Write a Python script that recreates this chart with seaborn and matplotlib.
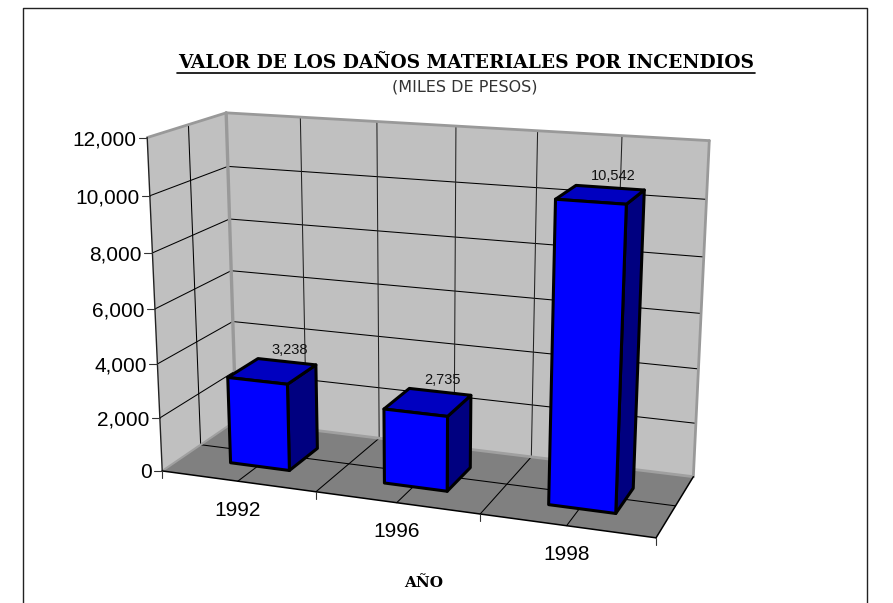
import numpy as np
import pandas as pd
import seaborn as sns
import matplotlib
matplotlib.use("Agg")
import matplotlib.pyplot as plt
from matplotlib.patches import Polygon

# data
years = ["1992", "1996", "1998"]
valores = [3238, 2735, 10542]
etiquetas = ["3,238", "2,735", "10,542"]
y_ticks = [0, 2000, 4000, 6000, 8000, 10000, 12000]
y_labels = ["0", "2,000", "4,000", "6,000", "8,000", "10,000", "12,000"]
y_max = 12000

# x (category), y (0-1 of the value axis), z (depth) -> pixel
calib_3d = [(0, 0, 0), (1, 0, 0), (2, 0, 0), (3, 0, 0), (0, 1, 0), (0, 0, 1), (0, 1, 1), (3, 0, 1),
            (3, 1, 1), (1, 0, 1), (0, 0, .5), (3, 0, .5), (1, 0, .5), (0, 1, .5), (1, 1, 1), (2, 1, 1), (.5, 1, 1)]
calib_px = [(162, 471.5), (316, 492), (481, 514), (656, 537), (148, 137), (238, 419), (225, 112), (694, 478),
            (709, 140), (378, 438), (200, 445), (675, 505), (348, 465), (188, 125), (377, 122), (538, 131), (301, 118)]

A = []
b = []
for (x, y, z), (u, v) in zip(calib_3d, calib_px):
    A.append([x, y, z, 1, 0, 0, 0, 0, -u*x, -u*y, -u*z])
    A.append([0, 0, 0, 0, x, y, z, 1, -v*x, -v*y, -v*z])
    b += [u, v]
m = np.linalg.lstsq(np.array(A, float), np.array(b, float), rcond=None)[0]
P = np.append(m, 1).reshape(3, 4)


def pr(x, val, z):
    h = P @ np.array([x, val/y_max, z, 1.0])
    return h[0]/h[2], h[1]/h[2]


sns.set_style("white")
plt.rcParams["font.family"] = ["Liberation Sans", "DejaVu Sans"]
azul, azul_top, azul_side = sns.color_palette(["#0000FF", "#0000C0", "#000080"])

fig = plt.figure(figsize=(8.93, 6.03), dpi=100)

# seaborn works out the bars, they get projected onto the 3d box below
df = pd.DataFrame({"year": years, "valor": valores})
hidden = fig.add_axes([0, 0, .1, .1])
sns.barplot(data=df, x="year", y="valor", width=.39, ax=hidden)
hidden.set_visible(False)

ax = fig.add_axes([0, 0, 1, 1])
ax.set_xlim(0, 893)
ax.set_ylim(603, 0)
ax.axis("off")


def face(pts, color, z=1, edge="none", lw=0):
    ax.add_patch(Polygon([pr(*p) for p in pts], closed=True, facecolor=color, edgecolor=edge,
                         linewidth=lw, zorder=z, joinstyle="round"))


def line(p1, p2, color="black", lw=.75, z=3):
    a, b = pr(*p1), pr(*p2)
    ax.plot([a[0], b[0]], [a[1], b[1]], color=color, lw=lw, zorder=z, solid_capstyle="round")


# outer frame, runs off the bottom
ax.plot([22.5, 22.5, 867, 867], [603, 8, 8, 603], color="#222222", lw=1, zorder=0)

# walls and floor
gris = "#C0C0C0"
face([(0, 0, 0), (0, y_max, 0), (0, y_max, 1), (0, 0, 1)], gris)
face([(0, 0, 1), (0, y_max, 1), (3, y_max, 1), (3, 0, 1)], gris)
face([(0, 0, 0), (3, 0, 0), (3, 0, 1), (0, 0, 1)], "#808080", z=2)

# grid
for v in y_ticks[1:-1]:
    line((0, v, 0), (0, v, 1))
    line((0, v, 1), (3, v, 1))
for x in np.arange(.5, 3, .5):
    line((x, 0, 1), (x, y_max, 1), "#222222")
    line((x, 0, 0), (x, 0, 1))
line((0, 0, .5), (0, y_max, .5))
line((0, 0, .5), (3, 0, .5))

# wall edges
borde = "#999999"
line((0, y_max, 0), (0, y_max, 1), borde, 2)
line((0, y_max, 1), (3, y_max, 1), borde, 2)
line((3, y_max, 1), (3, 0, 1), borde, 2)
line((0, y_max, 1), (0, 0, 1), borde, 2.4)
line((0, 0, 1), (3, 0, 1), "#A0A0A0", 2)
line((0, 0, 0), (0, 0, 1), "#A0A0A0", 1.5)

# axes
line((0, 0, 0), (0, y_max, 0), "#222222", 1, 4)
line((0, 0, 0), (3, 0, 0), "black", 1.1, 4)
line((3, 0, 0), (3, 0, 1), "black", 1.1, 4)

for v, lab in zip(y_ticks, y_labels):
    u, w = pr(0, v, 0)
    ax.plot([u-8, u], [w, w], color="#333333", lw=.8, zorder=4)
    ax.text(u-10.5, w, lab, ha="right", va="center_baseline", fontsize=15, color="black")

for i in range(4):
    u, w = pr(i, 0, 0)
    ax.plot([u, u], [w, w+7], color="#333333", lw=.8, zorder=4)

for i, y in enumerate(years):
    u, w = pr(i+.5, 0, 0)
    ax.text(u, w+27, y, ha="center", va="center_baseline", fontsize=15, color="black")

# bars
z0, z1 = .27, .69
for i, p in enumerate(hidden.patches[:len(years)]):
    x0 = p.get_x()+.515
    x1 = x0+p.get_width()
    v = p.get_height()
    k = 10+i
    face([(x1, 0, z0), (x1, v, z0), (x1, v, z1), (x1, 0, z1)], azul_side, k, "black", 2.2)
    face([(x0, v, z0), (x1, v, z0), (x1, v, z1), (x0, v, z1)], azul_top, k, "black", 2.2)
    face([(x0, 0, z0), (x1, 0, z0), (x1, v, z0), (x0, v, z0)], azul, k, "black", 2.2)
    u, w = pr((x0+x1)/2, v, z1)
    ax.text(u+3, w-12, etiquetas[i], ha="center", va="center", fontsize=10.5, color="#111111", zorder=20)

# titles
ax.text(466, 63, "VALOR DE LOS DAÑOS MATERIALES POR INCENDIOS", ha="center", va="center",
        family="DejaVu Serif", weight="bold", fontsize=13.45, color="black")
ax.plot([177, 755], [72.5, 72.5], color="black", lw=1.2)
ax.text(465, 87, "(MILES DE PESOS)", ha="center", va="center", family="DejaVu Sans", fontsize=11.5,
        color="#333333")
ax.text(424, 583, "AÑO", ha="center", va="center", family="DejaVu Serif", weight="bold", fontsize=11,
        color="black")

fig.savefig("out.png", dpi=100)
